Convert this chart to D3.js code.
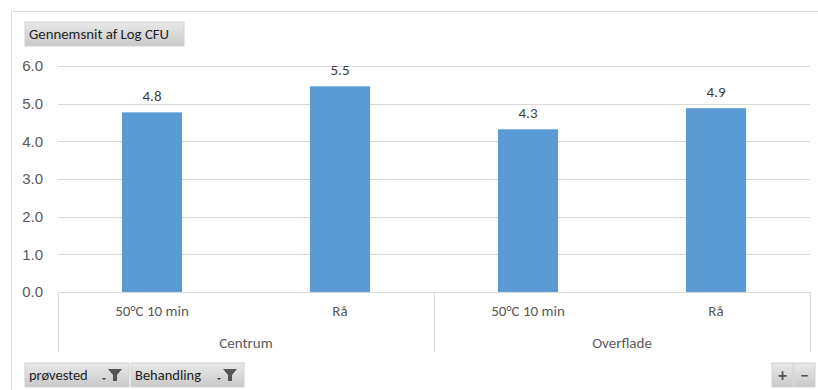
<!DOCTYPE html>
<html>
<head>
<meta charset="utf-8">
<script src="https://cdn.jsdelivr.net/npm/d3@7"></script>
<style>
  body { margin: 0; background: #fff; }
  svg { display: block; font-family: Calibri, Carlito, "Liberation Sans", "DejaVu Sans", sans-serif; }
</style>
</head>
<body>
<svg id="chart" width="818" height="390"></svg>
<script>
// Pivot chart: average Log CFU by sampling site and treatment
const groups = ["Centrum", "Overflade"];
const treatments = ["50°C 10 min", "Rå"];
const centrumValues = [4.77, 5.46];
const overfladeValues = [4.32, 4.88];
const yTicks = [0, 1, 2, 3, 4, 5, 6];
const valueField = "Gennemsnit af Log CFU";
const filterFields = ["prøvested", "Behandling"];

const rows = [];
[centrumValues, overfladeValues].forEach((vals, gi) => {
  vals.forEach((v, ti) => rows.push({ group: groups[gi], treatment: treatments[ti], key: groups[gi] + "|" + treatments[ti], value: v }));
});

const svg = d3.select("#chart");
const W = 818, H = 390;
const plot = { left: 58, right: 810, top: 66, bottom: 292 };

// grey gradient used by the field buttons
const defs = svg.append("defs");
const grad = defs.append("linearGradient").attr("id", "btn").attr("x1", 0).attr("y1", 0).attr("x2", 0).attr("y2", 1);
grad.append("stop").attr("offset", "0%").attr("stop-color", "#e9e9e9");
grad.append("stop").attr("offset", "100%").attr("stop-color", "#c9c9c9");

// outer chart frame (top and left edges)
svg.append("path")
  .attr("d", `M11.5,${H} L11.5,11.5 L${W},11.5`)
  .attr("fill", "none").attr("stroke", "#d9d9d9").attr("stroke-width", 1);

const x = d3.scaleBand().domain(rows.map(d => d.key)).range([plot.left, plot.right]).paddingInner(0.68).paddingOuter(0.34);
const y = d3.scaleLinear().domain([0, 6]).range([plot.bottom, plot.top]);

// horizontal gridlines
svg.append("g").selectAll("line").data(yTicks.filter(t => t > 0)).join("line")
  .attr("x1", plot.left).attr("x2", plot.right)
  .attr("y1", d => Math.round(y(d)) + 0.5).attr("y2", d => Math.round(y(d)) + 0.5)
  .attr("stroke", "#d9d9d9").attr("stroke-width", 1);

// y axis labels
const yAxis = d3.axisLeft(y).tickValues(yTicks).tickFormat(d3.format(".1f")).tickSize(0).tickPadding(15);
const yg = svg.append("g").attr("transform", `translate(${plot.left},0)`).call(yAxis);
yg.select(".domain").remove();
yg.selectAll("text").attr("fill", "#595959").style("font-size", "15px");

// bars
svg.append("g").selectAll("rect").data(rows).join("rect")
  .attr("x", d => x(d.key)).attr("width", x.bandwidth())
  .attr("y", d => y(d.value)).attr("height", d => y(0) - y(d.value))
  .attr("fill", "#5b9bd5");

// value labels
svg.append("g").selectAll("text").data(rows).join("text")
  .attr("x", d => x(d.key) + x.bandwidth() / 2)
  .attr("y", d => y(d.value) - 11)
  .attr("text-anchor", "middle").attr("fill", "#404040").style("font-size", "15px")
  .text(d => d3.format(".1f")(d.value));

// category axis with group dividers
const axisG = svg.append("g");
axisG.append("line").attr("x1", plot.left).attr("x2", plot.right)
  .attr("y1", plot.bottom + 0.5).attr("y2", plot.bottom + 0.5).attr("stroke", "#d9d9d9");
const groupWidth = (plot.right - plot.left) / groups.length;
d3.range(groups.length + 1).forEach(i => {
  const gx = Math.round(plot.left + i * groupWidth) + 0.5;
  axisG.append("line").attr("x1", gx).attr("x2", gx).attr("y1", plot.bottom).attr("y2", 352)
    .attr("stroke", "#d9d9d9");
});
axisG.selectAll("text.cat").data(rows).join("text").attr("class", "cat")
  .attr("x", d => x(d.key) + x.bandwidth() / 2).attr("y", 316)
  .attr("text-anchor", "middle").attr("fill", "#595959").style("font-size", "15px")
  .text(d => d.treatment);
axisG.selectAll("text.grp").data(groups).join("text").attr("class", "grp")
  .attr("x", (d, i) => plot.left + (i + 0.5) * groupWidth).attr("y", 348)
  .attr("text-anchor", "middle").attr("fill", "#595959").style("font-size", "15px")
  .text(d => d);

// value field button
const vb = svg.append("g");
vb.append("rect").attr("x", 25).attr("y", 22).attr("width", 159).attr("height", 24).attr("fill", "url(#btn)").attr("stroke", "#d0d0d0");
vb.append("text").attr("x", 29).attr("y", 39).attr("fill", "#1f1f1f").style("font-size", "14.8px").text(valueField);

// filter field buttons
function funnel(g, cx, cy) {
  g.append("path").attr("d", `M${cx - 7},${cy - 6} L${cx + 7},${cy - 6} L${cx + 2},${cy} L${cx + 2},${cy + 6} L${cx - 2},${cy + 6} L${cx - 2},${cy} Z`)
    .attr("fill", "#555");
  g.append("path").attr("d", `M${cx - 13},${cy + 3} L${cx - 9},${cy + 3} L${cx - 11},${cy + 5} Z`).attr("fill", "#333");
}
const fieldBtns = [{ x: 25, w: 104 }, { x: 131, w: 113 }];
filterFields.forEach((f, i) => {
  const g = svg.append("g");
  const b = fieldBtns[i];
  g.append("rect").attr("x", b.x).attr("y", 363).attr("width", b.w).attr("height", 24).attr("fill", "url(#btn)").attr("stroke", "#d0d0d0");
  g.append("text").attr("x", b.x + 4).attr("y", 380).attr("fill", "#1f1f1f").style("font-size", "14.5px").text(f);
  funnel(g, b.x + b.w - 14, 375);
});

// zoom buttons
["+", "−"].forEach((s, i) => {
  const g = svg.append("g");
  const bx = 772 + i * 22;
  g.append("rect").attr("x", bx).attr("y", 363).attr("width", 21).attr("height", 24).attr("fill", "url(#btn)").attr("stroke", "#d0d0d0");
  g.append("text").attr("x", bx + 10.5).attr("y", 381).attr("text-anchor", "middle").attr("fill", "#555")
    .style("font-size", "17px").style("font-weight", "bold").text(s);
});
</script>
</body>
</html>
